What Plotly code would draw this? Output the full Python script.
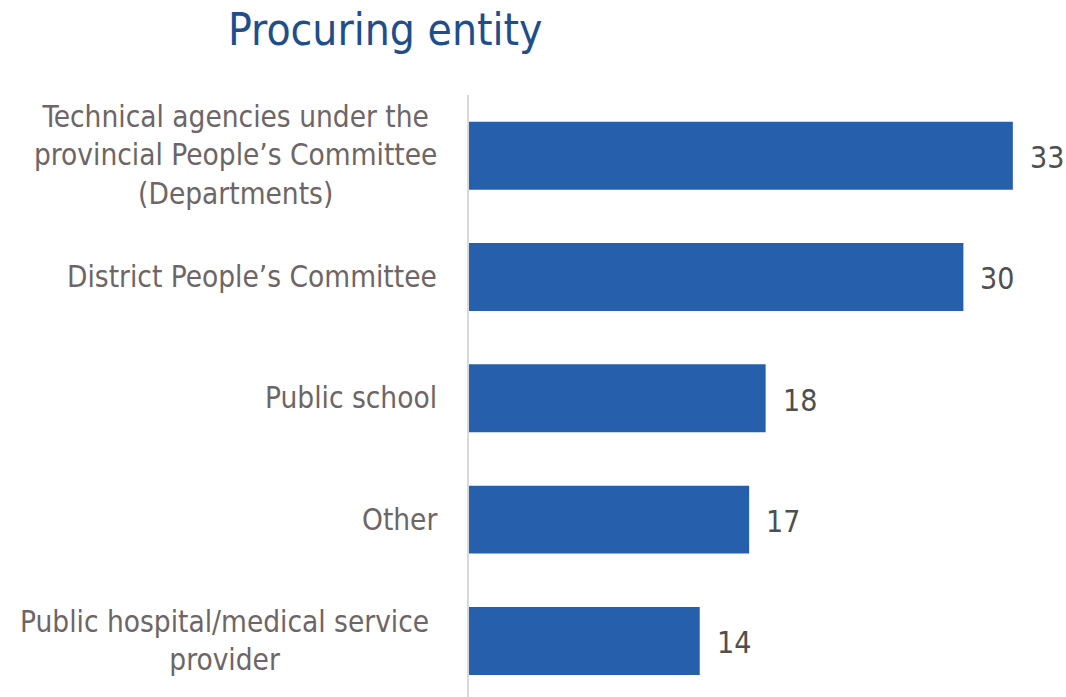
import plotly.graph_objects as go

# Procuring entity counts
categories = [
    "Technical agencies under the<br>provincial People’s Committee<br>(Departments)",
    "District People’s Committee",
    "Public school",
    "Other",
    "Public hospital/medical service<br>provider",
]
values = [33, 30, 18, 17, 14]

BAR_COLOR = "#2660AC"
LABEL_COLOR = "#6E6566"
VALUE_COLOR = "#4F4F4F"
TITLE_COLOR = "#1F4E8C"
FONT = "DejaVu Sans Condensed, Liberation Sans Narrow, Arial Narrow, sans-serif"

positions = list(range(len(categories)))

fig = go.Figure(
    go.Bar(
        x=values,
        y=positions,
        orientation="h",
        width=0.56,
        marker=dict(color=BAR_COLOR, line=dict(width=0)),
        hoverinfo="skip",
    )
)

annotations = []
# category labels: centred multi-line text, right-anchored left of the axis
label_shift = [-30, -30, -30, -30, -38]
for pos, cat, shift in zip(positions, categories, label_shift):
    annotations.append(dict(
        x=0, y=pos, xref="x", yref="y",
        text=cat, showarrow=False,
        xanchor="right", yanchor="middle", align="center",
        xshift=shift,
        font=dict(family=FONT, size=29.5, color=LABEL_COLOR),
    ))
# value labels at bar ends
for pos, val in zip(positions, values):
    annotations.append(dict(
        x=val, y=pos, xref="x", yref="y",
        text=str(val), showarrow=False,
        xanchor="left", yanchor="middle",
        xshift=15, yshift=-2,
        font=dict(family=FONT, size=30, color=VALUE_COLOR),
    ))

fig.update_layout(
    width=1066, height=697,
    margin=dict(l=469, r=0, t=95, b=0),
    paper_bgcolor="white", plot_bgcolor="white",
    showlegend=False,
    title=dict(
        text="Procuring entity",
        x=228 / 1066, xanchor="left", xref="container",
        y=1 - 30 / 697, yanchor="middle", yref="container",
        font=dict(family=FONT, size=44, color=TITLE_COLOR),
    ),
    xaxis=dict(
        range=[0, 597 / 16.48],
        showgrid=False, zeroline=False, showticklabels=False,
        showline=False, ticks="",
    ),
    yaxis=dict(
        range=[4.462, -0.5],
        showgrid=False, zeroline=False, showticklabels=False,
        showline=True, linecolor="#D9D9D9", linewidth=2, ticks="",
    ),
    annotations=annotations,
)

fig.write_html("out.html")
